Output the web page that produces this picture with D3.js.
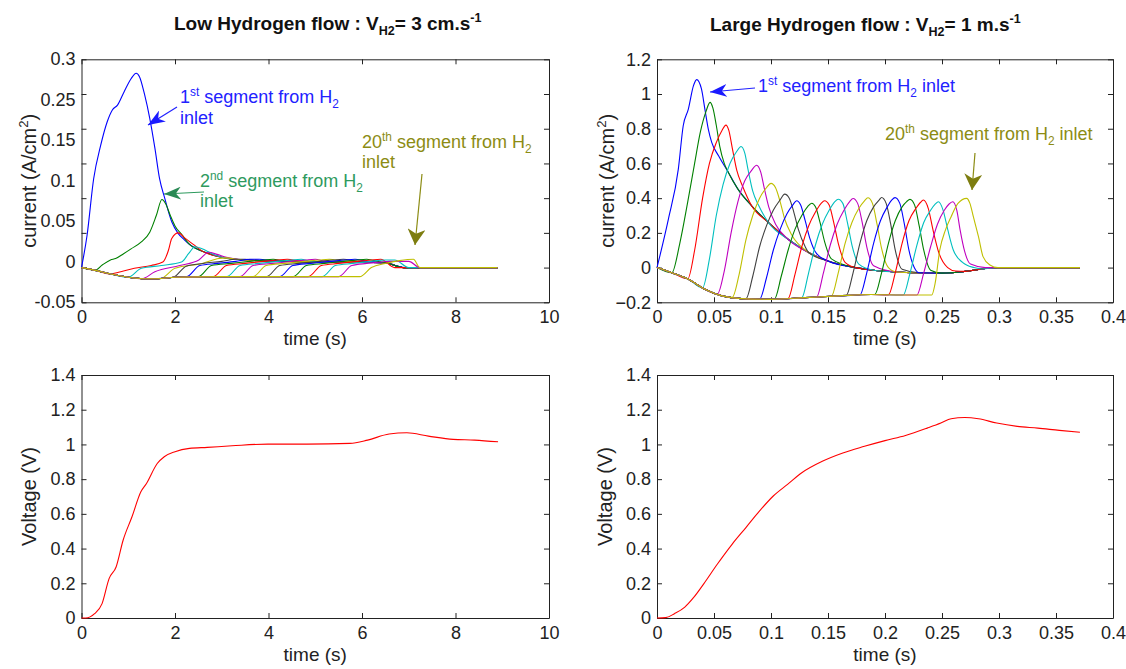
<!DOCTYPE html>
<html>
<head>
<meta charset="utf-8">
<script src="https://cdn.jsdelivr.net/npm/d3@7"></script>
<style>
  body { margin: 0; background: #fff; }
  svg { font-family: Arial, "Liberation Sans", sans-serif; }
</style>
</head>
<body>
<svg id="chart" width="1126" height="669"></svg>
<script>
// colours used by the plotting program, in drawing order (1st segment = blue)
const segColors = ["#0000ff", "#008000", "#ff0000", "#00bfbf", "#bf00bf", "#bfbf00", "#404040"];

// ---- low flow (3 cm/s) ----
const lowTimeTicks = [0, 2, 4, 6, 8, 10];
const lowCurrentTicks = [0.3, 0.25, 0.2, 0.15, 0.1, 0.05, 0, -0.05];
const lowCurrentLabels = ["0.3", "0.25", "0.15", "0.1", "0.05", "0", "-0.05"];

// path followed by every segment before hydrogen reaches it
const lowEnvelope = [[0,0],[0.3,-0.004],[0.6,-0.009],[1.0,-0.014],[1.3,-0.016],[1.6,-0.016],[2.0,-0.014],[3.0,-0.013],[5.95,-0.013]];
// common tail once the segment has passed its peak
const lowTail = [[2.3,0.034],[2.6,0.023],[3.0,0.015],[3.5,0.011],[4.5,0.009],[5.5,0.008],[6.5,0.007],[6.9,0.0],[8.9,0]];
// own part of each segment's current curve [time, current]
const lowSegments = [
  [[0,0],[0.12,0.047],[0.26,0.128],[0.41,0.176],[0.55,0.21],[0.66,0.227],[0.77,0.234],[0.91,0.253],[1.06,0.272],[1.17,0.28],[1.24,0.275],[1.35,0.249],[1.46,0.215],[1.57,0.172],[1.67,0.128],[1.78,0.1],[1.93,0.066],[2.07,0.049],[2.2,0.04]],
  [[0.29,-0.004],[0.45,0.004],[0.62,0.011],[0.73,0.013],[0.9,0.02],[1.06,0.027],[1.28,0.037],[1.46,0.051],[1.6,0.075],[1.72,0.098],[1.8,0.092],[1.9,0.075],[2.0,0.06],[2.15,0.047]],
  [[0.61,-0.009],[0.84,-0.006],[1.13,-0.001],[1.49,0.003],[1.74,0.008],[1.86,0.025],[1.93,0.042],[2.07,0.05],[2.22,0.042],[2.4,0.033]],
  [[1.0,-0.014],[1.28,-0.001],[1.71,0.003],[2.14,0.008],[2.29,0.02],[2.43,0.03],[2.65,0.025],[2.85,0.018]],
  [[1.29,-0.016],[1.57,-0.006],[2.1,0.003],[2.51,0.011],[2.72,0.022],[2.9,0.019],[3.1,0.015]],
  [[1.68,-0.016],[2.0,-0.001],[2.58,0.006],[2.94,0.013],[3.1,0.014],[3.3,0.012]],
  [[1.96,-0.014],[2.24,0.002],[2.6,0.006],[3.0,0.009],[3.3,0.012],[3.5,0.012],[3.8,0.01]],
  [[2.25,-0.013],[2.53,0.003],[2.9,0.006],[3.3,0.009],[3.6,0.012],[3.8,0.012],[4.1,0.01]],
  [[2.5,-0.013],[2.78,0.003],[3.2,0.006],[3.6,0.009],[3.9,0.011],[4.1,0.012],[4.3,0.01]],
  [[2.82,-0.013],[3.1,0.003],[3.5,0.006],[3.9,0.009],[4.2,0.011],[4.4,0.012],[4.7,0.009]],
  [[3.11,-0.013],[3.39,0.003],[3.8,0.006],[4.2,0.009],[4.5,0.011],[4.7,0.012],[4.9,0.009]],
  [[3.39,-0.013],[3.67,0.003],[4.1,0.006],[4.5,0.009],[4.8,0.011],[5.0,0.012],[5.2,0.009]],
  [[3.67,-0.013],[3.95,0.003],[4.35,0.006],[4.8,0.009],[5.1,0.011],[5.3,0.012],[5.6,0.009]],
  [[3.96,-0.013],[4.24,0.003],[4.65,0.006],[5.1,0.009],[5.4,0.011],[5.6,0.012],[5.9,0.009]],
  [[4.24,-0.013],[4.52,0.003],[4.9,0.006],[5.35,0.009],[5.65,0.011],[5.85,0.012],[6.1,0.009]],
  [[4.53,-0.013],[4.81,0.003],[5.2,0.006],[5.6,0.009],[5.9,0.011],[6.1,0.012],[6.4,0.008]],
  [[4.85,-0.013],[5.13,0.003],[5.5,0.006],[5.9,0.009],[6.2,0.011],[6.4,0.012],[6.7,0.0]],
  [[5.15,-0.013],[5.43,0.003],[5.8,0.006],[6.2,0.009],[6.5,0.011],[6.7,0.011],[7.0,0.0]],
  [[5.5,-0.013],[5.78,0.003],[6.1,0.006],[6.4,0.008],[6.6,0.009],[7.0,0.009],[7.24,0.0]],
  [[5.95,-0.013],[6.2,0.0],[6.5,0.006],[6.8,0.01],[7.1,0.012],[7.24,0.0]]
];
const lowVoltage = [[0,0],[0.09,0],[0.28,0.025],[0.44,0.083],[0.59,0.227],[0.74,0.294],[0.89,0.448],[1.08,0.583],[1.27,0.727],[1.39,0.775],[1.62,0.89],[1.77,0.929],[2.0,0.958],[2.31,0.977],[2.69,0.983],[3.22,0.992],[3.99,1.002],[4.82,1.002],[5.74,1.006],[6.12,1.025],[6.58,1.06],[6.96,1.067],[7.42,1.048],[7.95,1.029],[8.41,1.025],[8.91,1.015]];

// ---- large flow (1 m/s) ----
const largeTimeTicks = [0, 0.05, 0.1, 0.15, 0.2, 0.25, 0.3, 0.35, 0.4];
const largeCurrentTicks = [1.2, 1, 0.8, 0.6, 0.4, 0.2, 0, -0.2];
const largeEnvelope = [[0,0],[0.013,-0.03],[0.0275,-0.067],[0.042,-0.125],[0.057,-0.163],[0.074,-0.179],[0.1,-0.183],[0.13,-0.173],[0.159,-0.163],[0.188,-0.155],[0.215,-0.158],[0.241,-0.158]];
const largeTail = [[0.054,0.644],[0.0626,0.548],[0.071,0.452],[0.083,0.356],[0.0977,0.26],[0.115,0.163],[0.133,0.087],[0.15,0.038],[0.174,0.0],[0.19,-0.015],[0.21,-0.025],[0.23,-0.03],[0.25,-0.032],[0.27,-0.022],[0.285,-0.008],[0.298,0],[0.371,0]];
const largeSegments = [
  [[0,0],[0.01,0.279],[0.0187,0.567],[0.023,0.817],[0.0275,0.913],[0.032,1.048],[0.0348,1.083],[0.039,1.029],[0.042,0.913],[0.045,0.798],[0.048,0.721]],
  [[0.013,-0.03],[0.02,0.14],[0.027,0.38],[0.033,0.6],[0.038,0.78],[0.043,0.9],[0.0465,0.952],[0.049,0.92],[0.052,0.82],[0.055,0.7],[0.059,0.6]],
  [[0.027,-0.065],[0.033,0.1],[0.04,0.4],[0.046,0.6],[0.052,0.72],[0.057,0.79],[0.0605,0.821],[0.063,0.79],[0.066,0.69],[0.07,0.56],[0.075,0.47]],
  [[0.04,-0.117],[0.046,0.05],[0.052,0.3],[0.058,0.48],[0.064,0.6],[0.07,0.67],[0.0737,0.698],[0.077,0.66],[0.08,0.56],[0.084,0.44],[0.089,0.36]],
  [[0.053,-0.153],[0.059,-0.02],[0.065,0.2],[0.071,0.38],[0.077,0.5],[0.083,0.56],[0.0874,0.59],[0.091,0.55],[0.094,0.46],[0.098,0.35],[0.104,0.25]],
  [[0.066,-0.171],[0.072,-0.04],[0.078,0.16],[0.084,0.3],[0.09,0.4],[0.096,0.46],[0.1,0.485],[0.104,0.46],[0.108,0.38],[0.112,0.28],[0.118,0.19]],
  [[0.078,-0.18],[0.084,-0.05],[0.09,0.12],[0.096,0.24],[0.102,0.33],[0.108,0.39],[0.112,0.423],[0.116,0.4],[0.12,0.32],[0.124,0.22],[0.13,0.12]],
  [[0.09,-0.182],[0.096,-0.06],[0.102,0.1],[0.108,0.22],[0.114,0.31],[0.119,0.36],[0.1225,0.385],[0.126,0.36],[0.13,0.27],[0.134,0.17],[0.14,0.08]],
  [[0.103,-0.182],[0.109,-0.05],[0.115,0.1],[0.121,0.22],[0.127,0.3],[0.132,0.35],[0.1357,0.371],[0.139,0.35],[0.143,0.26],[0.147,0.15],[0.153,0.05]],
  [[0.115,-0.178],[0.121,-0.04],[0.127,0.12],[0.133,0.24],[0.139,0.32],[0.144,0.37],[0.147,0.385],[0.151,0.36],[0.155,0.26],[0.159,0.14],[0.165,0.03]],
  [[0.127,-0.174],[0.133,-0.03],[0.139,0.13],[0.145,0.25],[0.151,0.33],[0.156,0.38],[0.159,0.394],[0.163,0.37],[0.167,0.26],[0.171,0.13],[0.177,0.02]],
  [[0.14,-0.17],[0.146,-0.03],[0.152,0.13],[0.158,0.25],[0.164,0.33],[0.169,0.38],[0.172,0.398],[0.176,0.37],[0.18,0.26],[0.184,0.12],[0.19,0.01]],
  [[0.153,-0.165],[0.159,-0.03],[0.165,0.14],[0.171,0.26],[0.177,0.34],[0.182,0.385],[0.185,0.402],[0.189,0.37],[0.193,0.25],[0.197,0.11],[0.203,0.0]],
  [[0.166,-0.161],[0.172,-0.03],[0.178,0.14],[0.184,0.27],[0.19,0.35],[0.195,0.39],[0.197,0.404],[0.201,0.37],[0.205,0.25],[0.209,0.1],[0.215,-0.01]],
  [[0.178,-0.158],[0.184,-0.03],[0.19,0.14],[0.196,0.27],[0.202,0.35],[0.206,0.39],[0.2088,0.403],[0.213,0.37],[0.217,0.25],[0.221,0.1],[0.227,-0.015]],
  [[0.191,-0.155],[0.197,-0.03],[0.203,0.14],[0.209,0.27],[0.215,0.35],[0.219,0.38],[0.2219,0.393],[0.226,0.36],[0.23,0.24],[0.234,0.1],[0.24,-0.015]],
  [[0.203,-0.157],[0.209,-0.03],[0.215,0.14],[0.221,0.27],[0.227,0.34],[0.231,0.375],[0.2336,0.389],[0.238,0.34],[0.242,0.22],[0.247,0.09],[0.255,0.0],[0.262,-0.02]],
  [[0.216,-0.158],[0.222,-0.03],[0.228,0.13],[0.234,0.26],[0.24,0.33],[0.244,0.365],[0.2468,0.379],[0.251,0.33],[0.255,0.22],[0.26,0.1],[0.268,0.03],[0.278,0.0]],
  [[0.228,-0.158],[0.234,-0.03],[0.24,0.12],[0.246,0.25],[0.252,0.33],[0.256,0.365],[0.2594,0.379],[0.263,0.33],[0.2658,0.22],[0.27,0.09],[0.275,0.02],[0.288,0.0]],
  [[0.241,-0.158],[0.244,-0.09],[0.248,0.1],[0.253,0.216],[0.258,0.293],[0.264,0.37],[0.2716,0.399],[0.2745,0.37],[0.2775,0.293],[0.282,0.178],[0.286,0.063],[0.292,0.015],[0.299,0.0]]
];
const largeVoltage = [[0,0],[0.0076,0.002],[0.0153,0.025],[0.0244,0.063],[0.032,0.117],[0.041,0.197],[0.053,0.311],[0.066,0.426],[0.078,0.521],[0.09,0.617],[0.102,0.703],[0.1145,0.77],[0.127,0.837],[0.145,0.903],[0.163,0.951],[0.182,0.989],[0.2,1.022],[0.218,1.052],[0.237,1.094],[0.249,1.123],[0.258,1.148],[0.27,1.155],[0.282,1.148],[0.298,1.123],[0.316,1.104],[0.334,1.094],[0.353,1.081],[0.371,1.07]];

const voltageTicks = [0, 0.2, 0.4, 0.6, 0.8, 1, 1.2, 1.4];

const svg = d3.select("#chart");
const axisColor = "#222";
const tickFont = 18;

function joinCurve(own, env, tail) {
  const t0 = own[0][0], t1 = own[own.length - 1][0];
  return env.filter(p => p[0] < t0).concat(own, tail.filter(p => p[0] > t1));
}

// text made of plain / sup / sub pieces, shifted with relative dy so anchoring still works
function richInto(t, parts, size) {
  let shift = 0;
  parts.forEach(p => {
    const target = p[1] === "sup" ? -size * 0.4 : p[1] === "sub" ? size * 0.28 : 0;
    const s = t.append("tspan").text(p[0]);
    if (target !== shift) s.attr("dy", target - shift);
    if (p[1]) s.attr("font-size", size * 0.66);
    shift = target;
  });
  return t;
}
function rich(x, y, parts, color, size, weight) {
  const t = svg.append("text").attr("x", x).attr("y", y).attr("fill", color)
    .attr("font-size", size).attr("font-weight", weight || "normal");
  return richInto(t, parts, size);
}

function panel(o) {
  const g = svg.append("g").attr("transform", `translate(${o.left},${o.top})`);
  const x = d3.scaleLinear().domain(o.xDomain).range([0, o.w]);
  const y = d3.scaleLinear().domain(o.yDomain).range([o.h, 0]);

  g.append("g").attr("transform", `translate(0,${o.h})`)
    .call(d3.axisBottom(x).tickValues(o.xTicks).tickSizeInner(-5).tickSizeOuter(0).tickPadding(8).tickFormat(d3.format("~g")));
  g.append("g").call(d3.axisTop(x).tickValues(o.xTicks).tickSizeInner(-5).tickSizeOuter(0).tickFormat(""));
  const left = g.append("g")
    .call(d3.axisLeft(y).tickValues(o.yTicks).tickSizeInner(-5).tickSizeOuter(0).tickPadding(6)
      .tickFormat(o.yLabels ? "" : d3.format("~g")));
  g.append("g").attr("transform", `translate(${o.w},0)`)
    .call(d3.axisRight(y).tickValues(o.yTicks).tickSizeInner(-5).tickSizeOuter(0).tickFormat(""));

  g.selectAll(".domain, .tick line").attr("stroke", axisColor);
  g.selectAll(".tick text").attr("font-size", tickFont).attr("fill", axisColor)
    .attr("font-family", "Arial, 'Liberation Sans', sans-serif");

  if (o.yLabels) {
    // labels of this axis are spread evenly along its height
    const ly = d3.scalePoint().domain(o.yLabels).range([0, o.h]);
    left.selectAll(".lab").data(o.yLabels).join("text")
      .attr("x", -6).attr("y", d => ly(d)).attr("dy", "0.34em")
      .attr("text-anchor", "end").attr("font-size", tickFont).attr("fill", axisColor).text(d => d);
  }

  g.append("text").attr("x", o.w / 2).attr("y", o.h + 43).attr("text-anchor", "middle")
    .attr("font-size", 19).attr("fill", axisColor).text("time (s)");

  const yl = g.append("text").attr("transform", `translate(${o.yTitleX},${o.h / 2}) rotate(-90)`)
    .attr("text-anchor", "middle").attr("font-size", 20).attr("fill", axisColor);
  richInto(yl, o.yTitle, 20);

  return { g, x, y };
}

function drawLines(p, curves, colors, width) {
  const line = d3.line().x(d => p.x(d[0])).y(d => p.y(d[1])).curve(d3.curveMonotoneX);
  p.g.selectAll(null).data(curves).join("path")
    .attr("d", line).attr("fill", "none")
    .attr("stroke", (d, i) => colors[i % colors.length])
    .attr("stroke-width", width).attr("stroke-linejoin", "round");
}

const defs = svg.append("defs");
function arrow(id, color, len, wid) {
  defs.append("marker").attr("id", id).attr("markerUnits", "userSpaceOnUse")
    .attr("viewBox", `0 0 ${len} ${wid}`).attr("refX", len).attr("refY", wid / 2)
    .attr("markerWidth", len).attr("markerHeight", wid).attr("orient", "auto")
    .append("path").attr("d", `M0,0 L${len},${wid / 2} L0,${wid} L${len * 0.3},${wid / 2} Z`).attr("fill", color);
}
arrow("ab", "#1a1aff", 17, 13);
arrow("ag", "#2a8a55", 17, 13);
arrow("ao", "#7d7d10", 16, 18);
function pointer(x1, y1, x2, y2, color, id) {
  svg.append("line").attr("x1", x1).attr("y1", y1).attr("x2", x2).attr("y2", y2)
    .attr("stroke", color).attr("stroke-width", 1.2).attr("marker-end", `url(#${id})`);
}

const currentTitle = [["current (A/cm"], ["2", "sup"], [")"]];

// ---------- top left : current, low flow ----------
const tl = panel({ left: 81.5, top: 59.3, w: 467.5, h: 243, xDomain: [0, 10], yDomain: [-0.05, 0.3],
  xTicks: lowTimeTicks, yTicks: lowCurrentTicks, yLabels: lowCurrentLabels, yTitleX: -46, yTitle: currentTitle });
drawLines(tl, lowSegments.map(s => joinCurve(s, lowEnvelope, lowTail)), segColors, 1.1);

// ---------- top right : current, large flow ----------
const tr = panel({ left: 657, top: 59.3, w: 456, h: 243, xDomain: [0, 0.4], yDomain: [-0.2, 1.2],
  xTicks: largeTimeTicks, yTicks: largeCurrentTicks, yTitleX: -43, yTitle: currentTitle });
drawLines(tr, largeSegments.map(s => joinCurve(s, largeEnvelope, largeTail)), segColors, 1.1);

// ---------- bottom : voltage ----------
const bl = panel({ left: 81.5, top: 375, w: 467.5, h: 243, xDomain: [0, 10], yDomain: [0, 1.4],
  xTicks: lowTimeTicks, yTicks: voltageTicks, yTitleX: -46, yTitle: [["Voltage (V)"]] });
drawLines(bl, [lowVoltage], ["#ff0000"], 1.1);

const br = panel({ left: 657, top: 375, w: 456, h: 243, xDomain: [0, 0.4], yDomain: [0, 1.4],
  xTicks: largeTimeTicks, yTicks: voltageTicks, yTitleX: -45, yTitle: [["Voltage (V)"]] });
drawLines(br, [largeVoltage], ["#ff0000"], 1.1);

// ---------- titles ----------
rich(174, 30, [["Low Hydrogen flow : V"], ["H2", "sub"], ["= 3 cm.s"], ["-1", "sup"]], "#111", 19, "bold");
rich(710, 31, [["Large Hydrogen flow : V"], ["H2", "sub"], ["= 1 m.s"], ["-1", "sup"]], "#111", 19, "bold");

// ---------- annotations ----------
const blueTxt = "#2222ff", greenTxt = "#2e9a5e", oliveTxt = "#8c8c14";
rich(180, 103, [["1"], ["st", "sup"], [" segment from H"], ["2", "sub"]], blueTxt, 18);
rich(180, 124, [["inlet"]], blueTxt, 18);
pointer(177, 107, 148, 125, blueTxt, "ab");

rich(200, 187, [["2"], ["nd", "sup"], [" segment from H"], ["2", "sub"]], greenTxt, 18);
rich(200, 207, [["inlet"]], greenTxt, 18);
pointer(204, 192, 164, 194, greenTxt, "ag");

rich(362, 148, [["20"], ["th", "sup"], [" segment from H"], ["2", "sub"]], oliveTxt, 18);
rich(362, 168, [["inlet"]], oliveTxt, 18);
pointer(422, 174, 415, 245, oliveTxt, "ao");

rich(758, 92, [["1"], ["st", "sup"], [" segment from H"], ["2", "sub"], [" inlet"]], blueTxt, 18);
pointer(755, 88, 710, 92, blueTxt, "ab");

rich(885, 140, [["20"], ["th", "sup"], [" segment from H"], ["2", "sub"], [" inlet"]], oliveTxt, 18);
pointer(975, 153, 972, 190, oliveTxt, "ao");
</script>
</body>
</html>
